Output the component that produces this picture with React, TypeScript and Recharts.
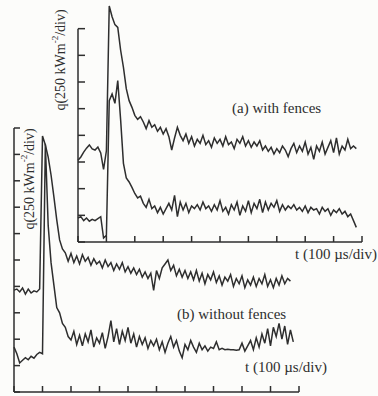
import * as React from "react";
import { LineChart, Line, XAxis, YAxis, ReferenceLine } from "recharts";

const INK = "#2e2e2e";
const PAPER = "#fcfcfa";
const SERIF = "'Liberation Serif', 'Times New Roman', serif";

// sample spacing in µs (all traces share one time grid)
const STEP = 10;
const T_TICKS = [0, 100, 200, 300, 400, 500, 600, 700, 800, 900, 1000];
const Q_TICKS_A = [0, 1, 2, 3, 4, 5, 6, 7, 8];
const Q_TICKS_B = [0, 1, 2, 3, 4, 5, 6, 7, 8, 9, 10];

// (a) with fences, q in divisions (250 kW/m² each)
const A_UPPER = [
  3.07, 3.19, 3.37, 3.52, 3.64, 3.49, 3.45, 3.56, 3.34, 2.72, 3.42,
  8.85, 8.45, 8.15, 8.05, 7.2, 6.55, 5.75, 5.3, 5.05, 4.75,
  4.6, 4.7, 4.5, 4.25, 4.55, 4.3, 4.4, 4.15, 4.3, 4.05,
  4.25, 3.95, 3.45, 3.9, 4.3, 4.0, 3.8, 4.05, 3.7, 3.95,
  3.6, 3.85, 3.7, 4.0, 3.65, 3.8, 3.55, 3.9, 3.7, 3.85,
  3.6, 3.95, 3.65, 3.75, 3.5, 3.85, 3.7, 3.95, 3.6, 3.8,
  3.55, 3.75, 3.6, 3.8, 3.45, 3.6, 3.4, 3.55, 3.3, 3.5,
  3.35, 3.6, 3.45, 3.2, 3.5, 3.7, 3.35, 3.6, 3.4, 3.75,
  3.3, 3.55, 3.1, 3.6, 3.4, 3.75, 3.3, 3.55, 3.8, 3.35,
  3.9, 3.3, 3.6, 3.45, 3.85, 3.5, 3.6, 3.5,
];
const A_LOWER = [
  0.9, 0.95, 0.8, 0.9, 0.78, 0.85, 0.8, 0.88, 0.95, 0.15, 0.25,
  5.3, 5.55, 5.2, 6.05, 4.6, 2.95, 2.4, 2.25, 2.05, 1.82,
  1.65, 1.72, 1.45, 1.3, 1.6, 1.25, 1.35, 1.1, 1.3, 1.05,
  1.25, 1.45, 1.2, 1.75, 0.95, 1.5, 1.2, 1.45, 1.1, 1.35,
  1.25, 1.4, 1.2, 1.5, 1.25, 1.35, 1.15, 1.4, 1.2, 1.55,
  1.15, 1.3, 1.05, 1.4, 1.2, 1.5, 1.0, 1.35, 1.15, 1.55,
  1.1, 1.45, 1.25, 1.6, 1.1, 1.5, 1.2, 1.45, 1.3, 1.55,
  1.15, 1.4, 1.2, 1.35, 1.25, 1.4, 1.2, 1.3, 1.15, 1.35,
  1.1, 1.3, 1.2, 1.25, 1.05, 1.3, 1.15, 1.25, 1.0, 1.2,
  1.1, 1.25, 1.05, 1.15, 0.95, 1.05, 0.8, 0.55,
];

// (b) without fences
const B_UPPER = [
  3.86, 3.9, 3.79, 3.94, 3.71, 3.9, 3.75, 3.83, 3.79, 3.9,
  9.7, 9.36, 8.9, 8.22, 7.39, 6.52, 5.76, 5.42, 5.27, 4.95,
  5.25, 4.9, 5.15, 4.85, 5.2, 4.95, 5.1, 4.8, 5.05, 4.85,
  4.95, 4.7, 5.0, 4.75, 4.9, 4.6, 4.85, 4.65, 4.9, 4.55,
  4.75, 4.5, 4.7, 4.45, 4.65, 4.35, 4.55, 4.3, 4.5, 3.85,
  4.6, 4.3, 4.7, 4.85, 5.0, 4.6, 4.8, 4.4, 4.65, 4.35,
  4.6, 4.3, 4.55, 4.25, 4.6, 4.2, 4.5, 4.1, 4.45, 4.25,
  4.55, 4.15, 4.4, 4.05, 4.35, 4.2, 4.45, 4.0, 4.3, 4.1,
  4.4, 3.95, 4.25, 4.05, 4.35, 4.0, 4.3, 4.1, 4.45, 4.0,
  4.25, 3.95, 4.3, 4.05, 4.4, 4.1, 4.3, 4.2,
];
const B_LOWER = [
  1.7, 1.45, 1.1, 1.2, 1.3, 1.22, 1.35, 1.28, 1.42, 1.5, 1.45,
  9.4, 6.3, 4.9, 4.05, 3.2, 3.0, 2.6, 2.45, 2.1, 1.97,
  2.3, 1.8, 2.15, 1.75, 2.2, 1.9, 2.35, 1.7, 2.05, 1.85,
  2.25, 1.65, 2.1, 2.7, 1.9, 2.4, 1.8, 2.3, 1.95, 2.45,
  1.85, 2.2, 1.7, 2.1, 1.8, 2.05, 1.65, 1.95, 1.75, 2.0,
  1.6, 1.9, 1.5, 1.85, 2.1, 1.7, 1.95, 1.55, 1.3, 1.8,
  1.6, 1.95, 1.7, 1.5, 1.85, 1.6, 1.75, 1.55, 1.7, 1.65,
  1.9, 1.6, 1.65, 1.6, 1.62, 1.6, 1.6, 1.58, 1.6, 1.85,
  1.55, 1.75, 1.95, 1.6, 2.05, 1.7, 2.2, 1.85, 2.4, 1.75,
  2.45, 2.1, 2.6, 2.0, 2.5, 1.8, 2.35, 1.9,
];

function rows(upper: number[], lower: number[]) {
  const n = Math.max(upper.length, lower.length);
  return Array.from({ length: n }, (_, i) => ({ t: i * STEP, upper: upper[i], lower: lower[i] }));
}

const dataA = rows(A_UPPER, A_LOWER);
const dataB = rows(B_UPPER, B_LOWER);

const axisStroke = { stroke: INK, strokeWidth: 1.5 };
const W = 378;
const H = 396;
const noLabel = () => "";

function Trace({ k }: { k: string }) {
  return <Line type="linear" dataKey={k} stroke={INK} strokeWidth={1.5} dot={false} isAnimationActive={false} />;
}

function YLabel({ x, y }: { x: number; y: number }) {
  return (
    <text x={x} y={y} transform={`rotate(-90 ${x} ${y})`} textAnchor="middle" dominantBaseline="central" fontSize={14}>
      q(250 kWm<tspan dy={-5} fontSize={9}>-2</tspan>
      <tspan dy={5}>/div)</tspan>
    </text>
  );
}

export default function App() {
  return (
    <div style={{ position: "absolute", left: 0, top: 0, width: W, height: H, background: PAPER }}>
      {/* panel (b), lower left */}
      <div style={{ position: "absolute", left: 0, top: 0 }}>
        <LineChart width={W} height={H} data={dataB} margin={{ top: 128, right: 79, bottom: 4, left: 14 }}>
          <XAxis type="number" dataKey="t" domain={[0, 1000]} ticks={T_TICKS} interval={0} mirror tickFormatter={noLabel} tickSize={6} axisLine={axisStroke} tickLine={axisStroke} />
          <YAxis type="number" domain={[0, 10]} ticks={Q_TICKS_B} interval={0} mirror tickFormatter={noLabel} tickSize={6} axisLine={axisStroke} tickLine={axisStroke} />
          <Trace k="upper" />
          <Trace k="lower" />
        </LineChart>
      </div>
      {/* panel (a), upper right */}
      <div style={{ position: "absolute", left: 0, top: 0 }}>
        <LineChart width={W} height={H} data={dataA} margin={{ top: 2, right: 16, bottom: 154, left: 78 }}>
          <XAxis type="number" dataKey="t" domain={[0, 1000]} ticks={T_TICKS} interval={0} mirror tickFormatter={noLabel} tickSize={6} axisLine={axisStroke} tickLine={axisStroke} />
          <YAxis type="number" domain={[0, 9]} ticks={Q_TICKS_A} interval={0} mirror tickFormatter={noLabel} tickSize={7} axisLine={false} tickLine={axisStroke} />
          <ReferenceLine segment={[{ x: 0, y: 0 }, { x: 0, y: 8 }]} {...axisStroke} />
          <Trace k="upper" />
          <Trace k="lower" />
        </LineChart>
      </div>
      <svg width={W} height={H} style={{ position: "absolute", left: 0, top: 0, pointerEvents: "none", fontFamily: SERIF }} fill={INK}>
        <YLabel x={60} y={60} />
        <YLabel x={29} y={179} />
        <text x={232} y={113} fontSize={15}>(a) with fences</text>
        <text x={295} y={259} fontSize={15}>t (100 µs/div)</text>
        <text x={177} y={319} fontSize={15}>(b) without fences</text>
        <text x={245} y={372} fontSize={15}>t (100 µs/div)</text>
      </svg>
    </div>
  );
}
